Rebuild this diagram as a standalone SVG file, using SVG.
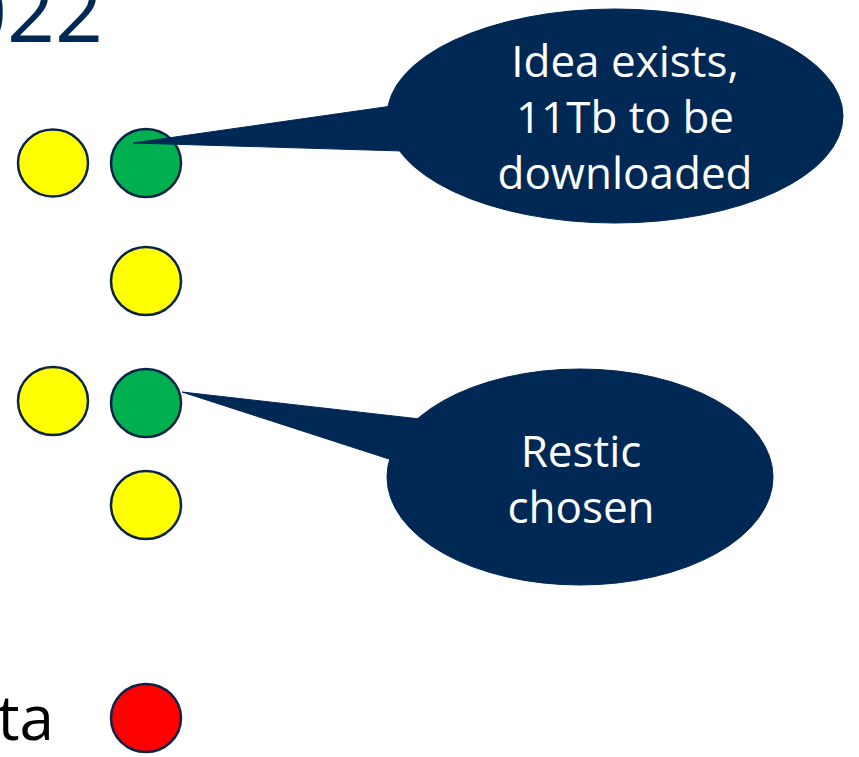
<svg xmlns="http://www.w3.org/2000/svg" width="859" height="757" viewBox="0 0 859 757">
<style>
.dot{stroke:#0b2347;stroke-width:2.5}
.y{fill:#ffff00}.g{fill:#00b050}.r{fill:#ff0000}
.call{fill:#002855;stroke:#002855;stroke-width:1}
.ct{font-family:"Open Sans","Noto Sans",sans-serif;font-size:44px;fill:#ffffff;text-anchor:middle}
</style>
<rect width="859" height="757" fill="#ffffff"/>
<text x="103" y="42" font-family="Open Sans, Noto Sans, sans-serif" font-size="84" fill="#002855" text-anchor="end">022</text>
<text x="54" y="740" font-family="Open Sans, Noto Sans, sans-serif" font-size="62" fill="#000000" text-anchor="end">ta</text>
<g id="nodes">
<g id="c1a"><ellipse class="dot y" cx="53" cy="163" rx="35" ry="33.5"/></g>
<g id="c1b"><ellipse class="dot g" cx="146" cy="163" rx="35" ry="34"/></g>
<g id="c2"><ellipse class="dot y" cx="146" cy="281" rx="35" ry="34"/></g>
<g id="c3a"><ellipse class="dot y" cx="53" cy="401" rx="35" ry="34"/></g>
<g id="c3b"><ellipse class="dot g" cx="146" cy="403" rx="35" ry="34"/></g>
<g id="c4"><ellipse class="dot y" cx="146" cy="505" rx="35" ry="34"/></g>
<g id="c5"><ellipse class="dot r" cx="146" cy="718" rx="35" ry="34"/></g>
</g>
<g id="connectors">
<g id="callout1">
<path class="call" d="M133,143 L392,106 L402,151 Z"/>
<ellipse class="call" cx="615" cy="116" rx="228" ry="107"/>
<text class="ct" x="625" y="77">Idea exists,</text>
<text class="ct" x="625" y="133">11Tb to be</text>
<text class="ct" x="625" y="189">downloaded</text>
</g>
<g id="callout2">
<path class="call" d="M182,392 L420,419 L392,460 Z"/>
<ellipse class="call" cx="580" cy="477" rx="193" ry="108"/>
<text class="ct" x="581" y="467">Restic</text>
<text class="ct" x="581" y="523">chosen</text>
</g>
</g>
</svg>
